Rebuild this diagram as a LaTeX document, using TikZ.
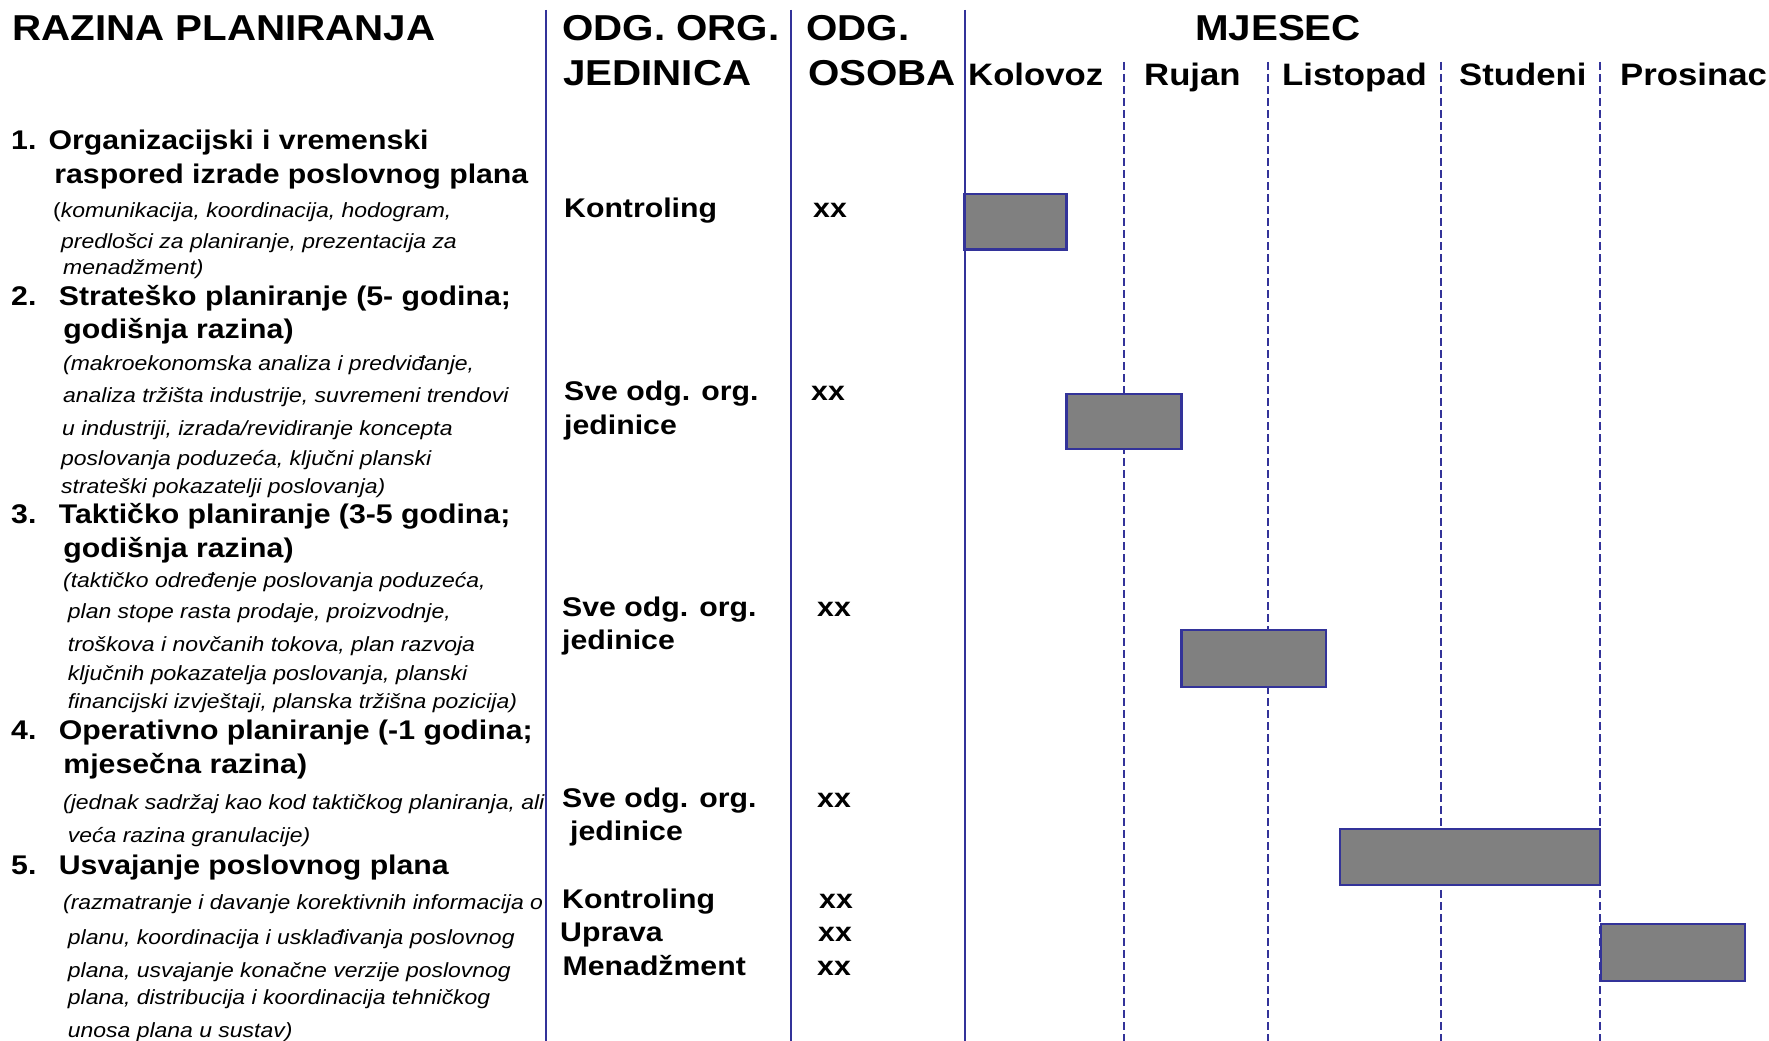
\documentclass[tikz,border=0pt]{standalone}
\usepackage{fontspec}
\setmainfont{Liberation Sans}[FakeStretch=1.12]
\definecolor{rule}{RGB}{51,51,153}
\definecolor{barfill}{RGB}{128,128,128}
\begin{document}
\begin{tikzpicture}[x=1pt,y=-1pt,
  hdr/.style={anchor=base west,inner sep=0pt,font=\bfseries\fontsize{36}{40}\selectfont},
  mon/.style={anchor=base west,inner sep=0pt,font=\bfseries\fontsize{31}{36}\selectfont},
  ttl/.style={anchor=mid west,inner sep=0pt,yshift=-6.8pt,font=\bfseries\fontsize{27}{32}\selectfont},
  dsc/.style={anchor=mid west,inner sep=0pt,yshift=-6.8pt,font=\itshape\fontsize{20.5}{24}\selectfont},
  cell/.style={anchor=mid west,inner sep=0pt,yshift=-6.8pt,font=\bfseries\fontsize{27}{32}\selectfont},
  solidrule/.style={draw=rule,line width=2pt},
  dashrule/.style={draw=rule,line width=2pt,dash pattern=on 8pt off 4pt},
  bar/.style={draw=rule,line width=2.5pt,fill=barfill}]
\useasboundingbox (0,0) rectangle (1769,1041);
\fill[white] (0,0) rectangle (1769,1041);

% column headers
\node[hdr] (hraz) at (12,41) {RAZINA PLANIRANJA};
\node[hdr] (horg1) at (562,41) {ODG. ORG.};
\node[hdr] (horg2) at (563,85) {JEDINICA};
\node[hdr] (hos1) at (806,41) {ODG.};
\node[hdr] (hos2) at (808,85) {OSOBA};
\node[hdr,anchor=base] (hmj) at (1278,41) {MJESEC};

% months
\node[mon] (m1) at (968,85) {Kolovoz};
\node[mon] (m2) at (1144,85) {Rujan};
\node[mon] (m3) at (1282,85) {Listopad};
\node[mon] (m4) at (1459,85) {Studeni};
\node[mon] (m5) at (1620,85) {Prosinac};

% planning levels
\node[ttl] (t1n) at (11,139.9) {1.};
\node[ttl] (t1a) at (48.5,139.9) {Organizacijski i vremenski};
\node[ttl] (t1b) at (54.2,173.7) {raspored izrade poslovnog plana};
\node[dsc] (d1a) at (53,208) {\textup{(}komunikacija, koordinacija, hodogram,};
\node[dsc] (d1b) at (61,239) {predlošci za planiranje, prezentacija za};
\node[dsc] (d1c) at (63,265) {menadžment)};

\node[ttl] (t2n) at (11,295.6) {2.};
\node[ttl] (t2a) at (58.7,295.6) {Strateško planiranje (5- godina;};
\node[ttl] (t2b) at (63.2,329.4) {godišnja razina)};
\node[dsc] (d2a) at (63,361) {(makroekonomska analiza i predviđanje,};
\node[dsc] (d2b) at (63,392.6) {analiza tržišta industrije, suvremeni trendovi};
\node[dsc] (d2c) at (62,426.5) {u industriji, izrada/revidiranje koncepta};
\node[dsc] (d2d) at (61,455.8) {poslovanja poduzeća, ključni planski};
\node[dsc] (d2e) at (61,484) {strateški pokazatelji poslovanja)};

\node[ttl] (t3n) at (11,514.5) {3.};
\node[ttl] (t3a) at (58.7,514.5) {Taktičko planiranje (3-5 godina;};
\node[ttl] (t3b) at (63.2,548.3) {godišnja razina)};
\node[dsc] (d3a) at (63,577.6) {(taktičko određenje poslovanja poduzeća,};
\node[dsc] (d3b) at (67.7,609.2) {plan stope rasta prodaje, proizvodnje,};
\node[dsc] (d3c) at (67.7,642) {troškova i novčanih tokova, plan razvoja};
\node[dsc] (d3d) at (67.7,671.3) {ključnih pokazatelja poslovanja, planski};
\node[dsc] (d3e) at (67.7,699.5) {financijski izvještaji, planska tržišna pozicija)};

\node[ttl] (t4n) at (11,730) {4.};
\node[ttl] (t4a) at (58.7,730) {Operativno planiranje (-1 godina;};
\node[ttl] (t4b) at (63.2,763.8) {mjesečna razina)};
\node[dsc] (d4a) at (63,799.9) {(jednak sadržaj kao kod taktičkog planiranja, ali};
\node[dsc] (d4b) at (67.7,832.6) {veća razina granulacije)};

\node[ttl] (t5n) at (11,865.3) {5.};
\node[ttl] (t5a) at (58.7,865.3) {Usvajanje poslovnog plana};
\node[dsc] (d5a) at (63,900.3) {(razmatranje i davanje korektivnih informacija o};
\node[dsc] (d5b) at (67.7,935.3) {planu, koordinacija i usklađivanja poslovnog};
\node[dsc] (d5c) at (67.7,968) {plana, usvajanje konačne verzije poslovnog};
\node[dsc] (d5d) at (67.7,995) {plana, distribucija i koordinacija tehničkog};
\node[dsc] (d5e) at (67.7,1027.8) {unosa plana u sustav)};

% responsible units
\node[cell] (o1) at (564,207.6) {Kontroling};
\node[cell] (o2a) at (564,391.5) {Sve odg. org.};
\node[cell] (o2b) at (564,425.3) {jedinice};
\node[cell] (o3a) at (562,607) {Sve odg. org.};
\node[cell] (o3b) at (562,639.7) {jedinice};
\node[cell] (o4a) at (562,797.6) {Sve odg. org.};
\node[cell] (o4b) at (570,831.5) {jedinice};
\node[cell] (o5a) at (562,899.2) {Kontroling};
\node[cell] (o5b) at (560,931.9) {Uprava};
\node[cell] (o5c) at (562.5,965.7) {Menadžment};

% responsible persons
\node[cell] (p1) at (813,207.6) {xx};
\node[cell] (p2) at (811,391.5) {xx};
\node[cell] (p3) at (817,607) {xx};
\node[cell] (p4) at (817,797.6) {xx};
\node[cell] (p5a) at (819,899.2) {xx};
\node[cell] (p5b) at (818,931.9) {xx};
\node[cell] (p5c) at (817,965.7) {xx};

% month separators
\foreach \mx in {1124,1268,1441,1600}
  \draw[dashrule] (\mx,62) -- (\mx,1041);

% schedule bars
\draw[bar] (964.5,194) rectangle (1066.5,249.5);
\draw[bar] (1066.5,394) rectangle (1181.5,449);
\draw[bar] (1181.5,630) rectangle (1326,687);
\draw[bar] (1340,829) rectangle (1600,885);
\draw[bar] (1601,924) rectangle (1745,981);

% column rules
\foreach \cx in {546,791,964.5}
  \draw[solidrule] (\cx,10) -- (\cx,1041);
\end{tikzpicture}
\end{document}
